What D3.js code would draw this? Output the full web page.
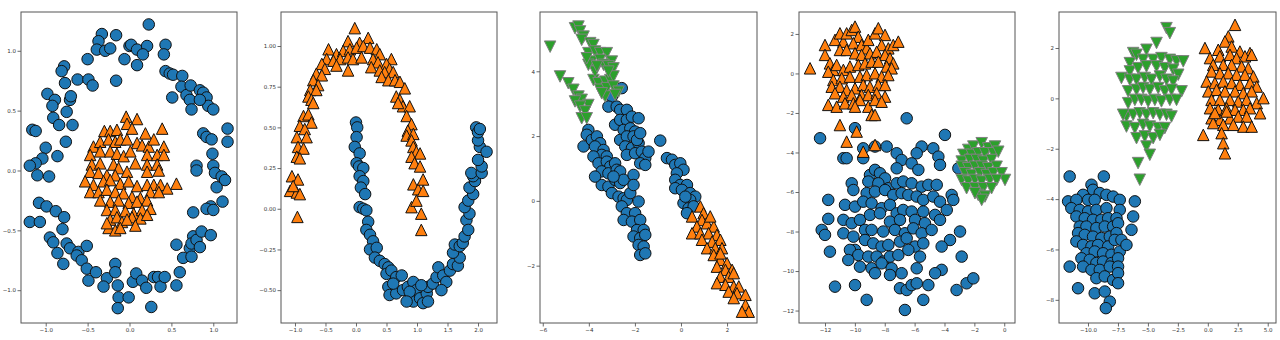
<!DOCTYPE html>
<html>
<head>
<meta charset="utf-8">
<script src="https://cdn.jsdelivr.net/npm/d3@7"></script>
<style>
  body { margin: 0; background: #fff; }
  svg { display: block; font-family: "DejaVu Sans", sans-serif; }
</style>
</head>
<body>
<div id="app"></div>
<script>
// panel 1: circles
const circlesBlue = [[0.23,1.22],[-0.33,1.14],[-0.16,1.13],[-0.37,1.08],[-0.39,1.01],[-0.29,1.00],[-0.23,1.02],[0.00,1.04],[0.02,1.05],[0.09,1.01],[0.21,1.04],[0.16,0.97],[-0.06,0.93],[0.09,0.88],[0.43,1.05],[0.41,0.97],[-0.50,0.93],[-0.78,0.87],[-0.81,0.83],[-0.77,0.73],[-0.62,0.76],[-0.49,0.76],[-0.44,0.71],[-0.16,0.75],[0.43,0.83],[0.48,0.81],[0.52,0.80],[0.63,0.79],[0.51,0.61],[0.62,0.70],[0.68,0.63],[0.72,0.59],[0.74,0.51],[0.73,0.71],[0.84,0.67],[0.88,0.65],[0.92,0.61],[0.94,0.54],[1.00,0.51],[0.84,0.59],[-0.98,0.64],[-0.89,0.59],[-0.92,0.54],[-0.75,0.49],[-0.71,0.59],[-0.70,0.62],[-0.91,0.44],[-0.84,0.38],[-0.68,0.38],[-0.76,0.24],[-1.16,0.34],[-1.12,0.33],[-1.00,0.19],[-1.04,0.10],[-1.12,0.06],[-1.19,0.04],[-1.10,-0.04],[-0.96,-0.05],[-0.86,0.12],[0.88,0.31],[0.92,0.28],[0.98,0.26],[1.17,0.35],[1.17,0.24],[0.99,0.14],[0.80,0.04],[0.80,0.00],[1.00,0.04],[1.02,-0.02],[1.10,-0.05],[1.14,-0.08],[1.04,-0.14],[1.11,-0.26],[0.97,-0.30],[0.92,-0.32],[1.00,-0.33],[0.76,-0.35],[-1.08,-0.27],[-0.99,-0.30],[-1.19,-0.43],[-1.07,-0.43],[-0.88,-0.34],[-0.78,-0.39],[-0.80,-0.49],[-0.95,-0.56],[-0.91,-0.60],[-0.75,-0.61],[-0.71,-0.65],[-0.61,-0.68],[-0.63,-0.71],[-0.51,-0.63],[-0.57,-0.75],[-0.51,-0.82],[-0.49,-0.92],[-0.40,-0.85],[-0.27,-0.90],[-0.31,-0.97],[-0.17,-0.78],[-0.17,-0.85],[-0.14,-0.96],[-0.13,-1.06],[-0.14,-1.15],[-0.01,-1.06],[0.04,-0.93],[0.08,-0.86],[0.15,-0.92],[0.20,-0.98],[0.29,-0.89],[0.34,-0.89],[0.37,-0.97],[0.42,-0.89],[0.56,-0.96],[0.60,-0.85],[0.64,-0.73],[0.56,-0.62],[0.26,-1.14],[0.72,-0.65],[0.76,-0.55],[0.74,-0.61],[0.80,-0.58],[0.74,-0.72],[0.84,-0.64],[0.86,-0.51],[0.97,-0.54],[-0.86,-0.69],[-0.79,-0.78]]
const circlesOrange = [[-0.04,0.45],[0.09,0.43],[-0.03,0.39],[0.03,0.35],[0.39,0.35],[-0.30,0.33],[-0.23,0.33],[-0.15,0.34],[0.19,0.31],[-0.43,0.20],[-0.35,0.24],[-0.25,0.26],[-0.17,0.24],[-0.11,0.26],[-0.03,0.26],[0.09,0.23],[0.15,0.21],[0.23,0.20],[0.29,0.26],[0.41,0.20],[-0.47,0.13],[-0.35,0.16],[-0.23,0.16],[-0.15,0.14],[-0.07,0.12],[0.01,0.16],[0.21,0.13],[0.33,0.13],[0.41,0.13],[-0.45,0.05],[-0.35,0.06],[-0.19,0.05],[-0.13,0.02],[-0.03,-0.01],[0.07,0.06],[0.21,0.05],[0.33,0.05],[0.35,0.00],[-0.47,-0.01],[-0.37,-0.02],[-0.27,-0.04],[-0.17,-0.04],[0.21,-0.01],[-0.53,-0.09],[-0.43,-0.12],[-0.31,-0.09],[-0.23,-0.08],[-0.11,-0.11],[-0.01,-0.09],[0.09,-0.13],[0.21,-0.12],[0.29,-0.12],[0.37,-0.12],[0.45,-0.15],[0.56,-0.11],[-0.47,-0.18],[-0.37,-0.18],[-0.27,-0.16],[-0.17,-0.18],[-0.07,-0.19],[0.03,-0.22],[0.13,-0.23],[0.25,-0.18],[0.35,-0.18],[-0.35,-0.25],[-0.23,-0.26],[-0.13,-0.25],[-0.01,-0.27],[0.09,-0.26],[0.21,-0.25],[-0.27,-0.33],[-0.17,-0.33],[-0.05,-0.34],[0.05,-0.36],[0.15,-0.33],[0.25,-0.32],[-0.23,-0.41],[-0.15,-0.39],[-0.09,-0.43],[0.03,-0.39],[0.13,-0.40],[0.21,-0.37],[-0.25,-0.48],[-0.17,-0.50],[-0.11,-0.48],[0.07,-0.46],[-0.27,-0.44],[-0.03,-0.41]]

// panel 2: moons
const moonsBlue = [[0.00,0.53],[0.02,0.50],[0.01,0.44],[-0.02,0.38],[0.06,0.34],[0.01,0.28],[0.05,0.26],[0.12,0.25],[0.06,0.20],[0.12,0.17],[0.08,0.13],[0.15,0.09],[0.06,0.01],[0.12,0.00],[0.17,-0.01],[0.20,-0.08],[0.17,-0.13],[0.23,-0.16],[0.28,-0.20],[0.23,-0.25],[0.34,-0.24],[0.31,-0.30],[0.39,-0.32],[0.47,-0.34],[0.53,-0.36],[0.50,-0.40],[0.58,-0.38],[0.66,-0.42],[0.75,-0.41],[0.53,-0.48],[0.55,-0.53],[0.66,-0.52],[0.77,-0.50],[0.85,-0.48],[0.94,-0.45],[0.99,-0.50],[0.94,-0.57],[1.05,-0.55],[1.10,-0.58],[1.16,-0.52],[1.18,-0.48],[1.26,-0.46],[1.32,-0.42],[1.35,-0.36],[1.43,-0.41],[1.48,-0.45],[1.54,-0.38],[1.59,-0.34],[1.67,-0.35],[1.70,-0.30],[1.59,-0.27],[1.62,-0.22],[1.70,-0.23],[1.75,-0.21],[1.78,-0.17],[1.81,-0.07],[1.86,-0.03],[1.78,0.01],[1.84,0.05],[1.92,0.09],[1.86,0.13],[1.95,0.17],[1.92,0.20],[1.89,0.22],[2.06,0.22],[2.06,0.26],[2.00,0.30],[2.03,0.38],[2.00,0.42],[2.14,0.35],[1.97,0.50],[2.00,0.47],[2.03,0.49],[0.88,-0.51],[1.18,-0.57],[0.83,-0.57],[0.61,-0.46],[1.40,-0.50],[1.84,-0.13],[1.07,-0.47]]
const moonsOrange = [[-0.02,1.11],[0.20,1.05],[-0.13,1.03],[0.06,1.02],[-0.45,0.98],[-0.32,0.95],[-0.21,0.97],[-0.10,0.98],[0.01,0.99],[0.12,1.00],[0.23,0.99],[0.34,0.98],[0.39,0.95],[0.58,0.92],[-0.48,0.92],[-0.37,0.91],[-0.26,0.92],[-0.13,0.93],[-0.05,0.92],[0.09,0.93],[0.28,0.92],[0.36,0.90],[0.50,0.89],[0.55,0.86],[-0.56,0.89],[-0.51,0.86],[-0.32,0.88],[-0.13,0.85],[0.25,0.87],[0.39,0.85],[0.47,0.84],[0.61,0.84],[-0.65,0.83],[-0.56,0.82],[0.42,0.81],[0.53,0.79],[0.64,0.79],[0.72,0.78],[-0.70,0.79],[-0.62,0.76],[-0.75,0.73],[-0.65,0.73],[0.80,0.74],[0.66,0.69],[0.72,0.67],[-0.78,0.69],[-0.73,0.67],[-0.70,0.65],[0.77,0.63],[0.69,0.65],[0.88,0.63],[-0.86,0.57],[-0.78,0.58],[-0.73,0.53],[0.83,0.57],[0.91,0.52],[-0.92,0.51],[-0.84,0.49],[0.85,0.48],[0.83,0.45],[0.94,0.46],[-0.97,0.44],[-0.81,0.44],[0.91,0.42],[-0.95,0.38],[-0.86,0.37],[0.94,0.38],[0.99,0.35],[1.05,0.34],[-0.97,0.32],[-0.92,0.31],[0.91,0.32],[0.96,0.28],[1.05,0.26],[-1.05,0.20],[-0.95,0.18],[-1.08,0.11],[-0.97,0.10],[-0.92,0.09],[-1.03,0.14],[0.94,0.15],[1.02,0.12],[1.10,0.18],[1.10,0.11],[0.91,0.01],[1.07,-0.03],[-0.96,-0.05],[1.07,-0.13],[0.99,0.05]]

// panel 3: anisotropic blobs
const anisoBlue = [[-4.02,2.19],[-4.09,2.04],[-4.23,1.68],[-3.87,1.88],[-3.65,1.99],[-3.51,1.78],[-3.73,1.68],[-3.36,1.57],[-3.44,1.42],[-3.80,1.37],[-3.22,1.37],[-3.58,1.16],[-3.22,1.21],[-3.07,1.06],[-2.86,1.16],[-3.44,0.91],[-3.15,0.85],[-2.79,0.96],[-2.64,0.91],[-3.44,0.49],[-3.15,0.44],[-2.86,0.65],[-2.64,0.55],[-2.49,0.65],[-3.00,0.24],[-2.71,0.13],[-2.49,0.08],[-2.35,0.03],[-2.57,-0.17],[-2.20,0.24],[-2.06,0.80],[-2.06,0.49],[-1.84,-0.02],[-2.35,-0.38],[-1.99,-0.38],[-2.49,-0.59],[-2.13,-0.64],[-1.77,-0.59],[-1.91,-0.90],[-1.62,-0.90],[-2.06,-1.10],[-1.77,-1.15],[-1.55,-1.05],[-1.84,-1.36],[-1.62,-1.41],[-1.77,-1.67],[-1.55,-1.62],[-3.73,0.75],[-2.93,0.75],
  [-2.57,3.48],[-3.00,3.22],[-3.15,2.91],[-2.79,2.91],[-2.64,2.81],[-2.35,2.81],[-2.86,2.35],[-2.64,2.50],[-2.35,2.50],[-2.13,2.60],[-1.84,2.55],[-2.49,2.19],[-2.20,2.24],[-1.99,2.14],[-2.64,1.88],[-2.35,1.99],[-2.06,1.99],[-2.42,1.68],[-2.13,1.63],[-1.84,1.78],[-2.35,1.42],[-1.99,1.47],[-1.70,1.52],[-1.55,1.32],[-1.41,1.52],[-1.77,1.16],[-1.55,1.11],[-1.91,1.88],[-1.77,2.09],
  [-0.90,1.86],
  [-0.61,1.32],[-0.39,1.27],[-0.25,1.11],[-0.03,1.16],[0.11,0.96],[-0.18,0.85],[-0.25,0.65],[-0.03,0.49],[0.26,0.49],[-0.25,0.39],[0.04,0.34],[0.40,0.24],[0.62,0.13],[0.40,0.03],[0.11,-0.07],[0.33,-0.23],[0.55,-0.17],[0.26,-0.38],[0.19,0.13]]
const anisoOrange = [[0.48,-0.48],[0.84,-0.17],[0.98,-0.38],[0.91,-0.59],[0.69,-0.79],[1.13,-0.69],[1.42,-0.79],[0.48,-1.00],[0.84,-1.00],[1.20,-1.00],[1.56,-1.05],[1.71,-1.20],[0.91,-1.20],[1.35,-1.26],[1.13,-1.46],[1.49,-1.46],[1.78,-1.46],[1.42,-1.67],[1.71,-1.82],[2.00,-1.92],[1.56,-2.03],[1.93,-2.13],[2.22,-2.13],[1.71,-2.34],[2.07,-2.34],[2.29,-2.23],[1.56,-2.54],[1.93,-2.59],[2.29,-2.64],[2.51,-2.64],[2.07,-2.80],[2.43,-2.85],[2.80,-2.90],[2.29,-3.00],[2.80,-3.21],[2.94,-3.42],[2.65,-3.42],[1.71,-1.62],[1.27,-0.48]]
const anisoGreen = [[-5.68,4.76],[-4.60,5.33],[-4.45,5.38],[-4.38,5.23],[-4.23,5.07],[-4.31,4.97],[-3.94,4.87],[-3.80,4.81],[-4.02,4.56],[-3.73,4.61],[-3.51,4.56],[-3.22,4.56],[-3.00,4.30],[-3.87,4.30],[-3.51,4.35],[-3.36,4.20],[-3.15,4.15],[-2.93,4.09],[-5.25,3.84],[-4.89,3.63],[-4.67,3.43],[-4.45,3.22],[-4.31,3.12],[-4.02,2.96],[-4.60,3.07],[-4.38,2.91],[-4.16,2.76],[-4.31,2.55],[-4.09,2.55],[-3.80,3.73],[-3.58,3.63],[-3.29,3.68],[-3.07,3.73],[-2.93,3.84],[-3.51,3.43],[-3.22,3.48],[-2.93,3.53],[-2.71,3.37],[-3.29,3.22],[-3.44,3.32],[-2.86,3.27],[-3.73,3.99],[-3.15,3.99],[-4.02,4.20],[-3.65,4.15],[-4.09,4.40]]

// panel 4: blobs with different spread
const blobsBlue = [[-6.53,-2.27],[-3.97,-3.11],[-12.33,-3.28],[-9.99,-2.77],[-10.77,-4.29],[-10.55,-4.29],[-9.44,-3.79],[-8.65,-3.70],[-7.87,-3.70],[-7.20,-4.04],[-5.53,-3.70],[-4.75,-3.79],[-5.86,-4.04],[-4.41,-4.21],[-4.30,-4.63],[-3.07,-4.80],[-6.87,-4.38],[-6.20,-4.55],[-5.75,-4.88],[-7.20,-4.80],[-8.99,-5.14],[-8.65,-4.88],[-8.32,-5.05],[-7.98,-5.31],[-9.10,-5.47],[-8.43,-5.56],[-7.76,-5.81],[-7.20,-5.56],[-6.76,-5.47],[-6.20,-5.56],[-5.53,-5.73],[-5.08,-5.64],[-4.52,-5.64],[-10.21,-5.56],[-10.10,-5.90],[-9.21,-6.06],[-8.65,-5.98],[-7.98,-5.90],[-7.43,-6.15],[-6.87,-6.06],[-6.42,-6.15],[-5.86,-6.23],[-5.42,-6.40],[-4.75,-6.23],[-4.30,-6.49],[-3.52,-6.15],[-3.41,-6.40],[-11.78,-6.40],[-10.66,-6.65],[-9.99,-6.74],[-9.44,-6.49],[-8.88,-6.57],[-8.21,-6.82],[-7.65,-6.65],[-7.20,-7.08],[-6.76,-6.91],[-6.20,-6.99],[-5.42,-6.99],[-4.63,-7.16],[-3.85,-6.91],[-11.78,-7.36],[-10.77,-7.41],[-10.21,-7.58],[-9.66,-7.41],[-8.99,-7.16],[-8.32,-7.08],[-7.65,-7.50],[-6.98,-7.41],[-5.97,-7.41],[-5.31,-7.58],[-4.30,-7.41],[-12.22,-7.92],[-12.00,-8.17],[-10.77,-8.09],[-10.10,-8.26],[-9.32,-7.92],[-8.88,-7.92],[-8.10,-8.00],[-7.32,-7.92],[-6.65,-8.09],[-6.09,-7.84],[-5.53,-8.09],[-4.86,-7.92],[-2.96,-8.00],[-3.63,-8.43],[-9.99,-8.93],[-9.32,-8.43],[-8.77,-8.60],[-8.21,-8.76],[-7.76,-8.68],[-6.98,-8.51],[-6.53,-8.34],[-5.97,-8.76],[-5.42,-8.60],[-4.19,-8.76],[-11.67,-9.02],[-10.33,-8.93],[-9.77,-9.19],[-9.10,-9.27],[-8.54,-9.27],[-8.10,-9.52],[-7.65,-9.27],[-7.09,-9.19],[-6.42,-8.93],[-5.64,-9.27],[-2.85,-9.27],[-10.44,-9.44],[-9.66,-9.78],[-8.88,-9.86],[-8.21,-9.61],[-7.54,-9.86],[-8.65,-10.11],[-7.65,-10.20],[-6.87,-10.11],[-5.86,-9.86],[-4.19,-9.94],[-4.63,-10.11],[-11.33,-10.79],[-9.99,-10.71],[-6.98,-10.87],[-6.53,-10.96],[-6.20,-10.71],[-5.86,-10.62],[-5.08,-10.71],[-3.19,-10.96],[-2.52,-10.62],[-2.07,-10.37],[-9.21,-11.46],[-6.65,-11.97],[-5.42,-11.46],[-9.44,-4.29]]
const blobsOrange = [[-13.0,0.26],[-12.0,1.44],[-12.0,0.94],[-11.67,0.51],[-11.44,0.18],[-11.33,1.70],[-11.0,2.03],[-10.77,1.61],[-10.55,2.03],[-10.21,2.20],[-9.99,2.37],[-9.77,1.86],[-10.10,1.53],[-9.55,1.44],[-9.21,1.27],[-9.10,1.70],[-8.65,2.03],[-8.43,2.29],[-7.98,1.95],[-8.21,1.44],[-7.76,1.27],[-7.43,1.44],[-7.09,1.61],[-11.0,1.19],[-10.55,1.19],[-9.99,1.02],[-9.55,0.94],[-8.99,1.02],[-8.54,1.10],[-7.98,0.94],[-7.65,0.77],[-7.43,0.51],[-11.78,0.09],[-11.22,0.43],[-10.77,0.18],[-10.33,0.35],[-9.77,0.43],[-9.32,0.51],[-8.88,0.60],[-8.43,0.60],[-7.87,0.35],[-7.54,0.26],[-11.44,-0.33],[-10.88,-0.24],[-10.33,-0.16],[-9.66,-0.16],[-9.21,-0.08],[-8.65,0.01],[-8.21,-0.16],[-7.76,-0.08],[-11.55,-0.67],[-11.0,-0.67],[-10.55,-0.84],[-9.99,-0.75],[-9.44,-0.58],[-8.99,-0.67],[-8.43,-0.58],[-7.98,-0.58],[-11.33,-1.00],[-10.77,-1.17],[-10.21,-1.09],[-9.55,-1.09],[-9.10,-1.09],[-8.54,-1.00],[-7.98,-1.17],[-11.78,-1.59],[-11.22,-1.68],[-10.66,-1.51],[-10.10,-1.51],[-9.66,-1.34],[-9.10,-1.68],[-8.65,-1.34],[-8.21,-1.43],[-9.99,-1.68],[-8.88,-2.10],[-8.65,-2.10],[-11.0,-2.61],[-9.88,-2.94],[-10.55,-3.45],[-9.44,-3.96],[-8.65,-3.62]]
const blobsGreen = [[-2.41,-3.87],[-2.07,-3.70],[-1.51,-3.53],[-1.07,-3.79],[-0.62,-3.70],[-2.74,-4.12],[-2.18,-4.12],[-1.74,-4.04],[-1.29,-4.04],[-0.73,-4.04],[-0.40,-3.96],[-2.85,-4.46],[-2.30,-4.38],[-1.85,-4.38],[-1.40,-4.46],[-0.85,-4.38],[-2.85,-4.72],[-2.41,-4.80],[-1.96,-4.72],[-1.51,-4.72],[-1.07,-4.80],[-0.51,-4.72],[-2.63,-5.05],[-2.18,-5.14],[-1.63,-5.05],[-1.18,-5.14],[-0.73,-5.05],[-0.18,-5.05],[0.05,-5.39],[-2.85,-5.39],[-2.41,-5.47],[-1.96,-5.39],[-1.51,-5.47],[-0.96,-5.39],[-0.51,-5.39],[-2.52,-5.81],[-1.96,-5.81],[-1.40,-5.81],[-0.85,-5.81],[-1.74,-6.15],[-1.29,-6.23],[-1.51,-6.40],[-1.96,-6.06]]

// panel 5: three blobs
const threeBlue = [[-11.53,-3.10],[-8.68,-3.10],[-9.71,-3.43],[-9.58,-3.63],[-10.41,-3.83],[-9.02,-3.76],[-8.46,-3.83],[-7.90,-3.90],[-7.35,-4.03],[-11.66,-4.09],[-10.97,-4.03],[-9.99,-4.03],[-9.44,-4.03],[-6.09,-4.09],[-11.39,-4.36],[-10.69,-4.43],[-9.99,-4.49],[-9.30,-4.43],[-8.46,-4.36],[-7.35,-4.43],[-10.97,-4.69],[-10.27,-4.76],[-9.58,-4.82],[-8.88,-4.82],[-8.32,-4.76],[-7.62,-4.76],[-6.23,-4.69],[-10.69,-5.09],[-10.13,-5.09],[-9.30,-5.15],[-8.60,-5.09],[-7.90,-5.09],[-7.49,-4.96],[-10.83,-5.35],[-10.27,-5.42],[-9.58,-5.49],[-8.88,-5.55],[-8.18,-5.49],[-7.62,-5.35],[-6.37,-5.22],[-10.97,-5.68],[-10.41,-5.82],[-9.71,-5.88],[-9.16,-5.82],[-8.32,-5.88],[-7.77,-5.62],[-7.21,-5.62],[-10.13,-6.15],[-9.44,-6.08],[-8.74,-6.15],[-8.04,-6.21],[-7.35,-6.08],[-6.79,-5.82],[-10.55,-6.35],[-9.85,-6.41],[-9.30,-6.54],[-8.74,-6.48],[-8.04,-6.54],[-7.49,-6.35],[-10.41,-6.68],[-11.53,-6.68],[-9.71,-6.81],[-9.02,-6.81],[-8.18,-6.68],[-7.49,-6.68],[-9.30,-7.14],[-8.60,-7.07],[-7.90,-7.21],[-7.49,-6.94],[-10.83,-7.54],[-9.44,-7.74],[-8.60,-7.67],[-8.18,-8.07],[-8.51,-8.33],[-7.49,-7.34]]
const threeOrange = [[2.27,2.92],[1.71,2.46],[1.43,2.26],[-0.24,2.00],[0.87,1.93],[1.99,2.06],[2.68,1.86],[3.52,1.80],[0.18,1.60],[1.01,1.67],[1.85,1.73],[2.40,1.60],[3.10,1.67],[3.66,1.73],[0.45,1.33],[1.29,1.33],[1.99,1.33],[2.82,1.27],[3.38,1.20],[0.31,1.07],[1.01,1.00],[1.71,1.00],[2.40,0.94],[3.10,0.94],[3.80,0.87],[-0.10,0.67],[0.59,0.61],[1.29,0.67],[1.99,0.61],[2.68,0.54],[3.52,0.61],[4.08,0.47],[0.04,0.28],[0.73,0.34],[1.43,0.28],[2.27,0.28],[2.96,0.21],[3.66,0.28],[0.31,-0.06],[1.01,-0.06],[1.85,-0.06],[2.54,-0.12],[3.24,-0.06],[4.08,-0.19],[4.64,0.01],[0.18,-0.39],[0.87,-0.45],[1.57,-0.39],[2.27,-0.45],[2.96,-0.45],[3.52,-0.39],[4.36,-0.59],[0.31,-0.79],[1.01,-0.85],[1.85,-0.79],[2.54,-0.72],[3.24,-0.72],[0.45,-0.98],[1.29,-1.05],[2.13,-1.05],[2.96,-1.12],[3.66,-1.12],[1.15,-1.38],[-0.38,-1.45],[1.29,-1.78],[1.43,-2.18],[1.57,-0.52],[0.59,-0.58]]
const threeGreen = [[-3.45,2.79],[-3.17,2.59],[-4.28,2.20],[-5.12,1.93],[-6.23,1.80],[-5.95,1.73],[-6.51,1.40],[-5.40,1.53],[-4.56,1.53],[-3.87,1.60],[-3.17,1.53],[-2.61,1.47],[-2.05,1.47],[-7.21,0.81],[-6.51,1.07],[-5.82,1.20],[-5.12,1.27],[-4.28,1.27],[-3.59,1.20],[-2.89,1.14],[-2.47,0.94],[-6.51,0.74],[-5.95,0.74],[-5.26,0.81],[-4.70,0.74],[-4.00,0.87],[-3.45,0.74],[-2.89,0.67],[-2.19,0.28],[-6.65,0.28],[-5.95,0.34],[-5.40,0.41],[-4.84,0.34],[-4.14,0.41],[-3.59,0.28],[-3.03,0.34],[-6.65,-0.19],[-6.09,-0.06],[-5.54,-0.06],[-4.98,-0.12],[-4.42,-0.06],[-3.87,-0.12],[-3.17,-0.06],[-2.61,-0.06],[-6.79,-0.72],[-6.23,-0.65],[-5.68,-0.59],[-5.12,-0.65],[-4.56,-0.59],[-4.00,-0.65],[-3.45,-0.65],[-3.03,-0.72],[-6.79,-1.12],[-6.09,-1.18],[-5.40,-1.05],[-4.84,-1.12],[-4.14,-1.18],[-3.59,-1.18],[-5.95,-1.58],[-5.26,-1.51],[-4.56,-1.58],[-4.00,-1.45],[-5.12,-1.91],[-4.84,-2.24],[-5.82,-2.57],[-5.68,-3.23],[-7.07,-0.65]]

// tick values per panel
const ticks1x = [-1.0, -0.5, 0.0, 0.5, 1.0]
const ticks1y = [-1.0, -0.5, 0.0, 0.5, 1.0]
const ticks2x = [-1.0, -0.5, 0.0, 0.5, 1.0, 1.5, 2.0]
const ticks2y = [-0.5, -0.25, 0.0, 0.25, 0.5, 0.75, 1.0]
const ticks3x = [-6, -4, -2, 0, 2]
const ticks3y = [-2, 0, 2, 4]
const ticks4x = [-12, -10, -8, -6, -4, -2, 0]
const ticks4y = [-12, -10, -8, -6, -4, -2, 0, 2]
const ticks5x = [-10.0, -7.5, -5.0, -2.5, 0.0, 2.5, 5.0]
const ticks5y = [-8, -6, -4, -2, 0, 2]

const blue = '#1f77b4', orange = '#ff7f0e', green = '#2ca02c'

const panels = [
  { left: 21, right: 237, xd: [-1.295, 1.283], yd: [-1.274, 1.324], tx: ticks1x, ty: ticks1y, fx: '.1f', fy: '.1f',
    series: [[circlesBlue, 'o', blue], [circlesOrange, '^', orange]] },
  { left: 281, right: 497, xd: [-1.229, 2.311], yd: [-0.702, 1.209], tx: ticks2x, ty: ticks2y, fx: '.1f', fy: '.2f',
    series: [[moonsBlue, 'o', blue], [moonsOrange, '^', orange]] },
  { left: 540, right: 757, xd: [-6.12, 3.30], yd: [-3.77, 5.83], tx: ticks3x, ty: ticks3y, fx: 'd', fy: 'd',
    series: [[anisoBlue, 'o', blue], [anisoOrange, '^', orange], [anisoGreen, 'v', green]] },
  { left: 799, right: 1015, xd: [-13.74, 0.72], yd: [-12.63, 3.11], tx: ticks4x, ty: ticks4y, fx: 'd', fy: 'd',
    series: [[blobsBlue, 'o', blue], [blobsOrange, '^', orange], [blobsGreen, 'v', green]] },
  { left: 1059, right: 1276, xd: [-12.42, 5.69], yd: [-8.92, 3.43], tx: ticks5x, ty: ticks5y, fx: '.1f', fy: 'd',
    series: [[threeBlue, 'o', blue], [threeOrange, '^', orange], [threeGreen, 'v', green]] }
]

const plotTop = 12, plotBottom = 323
const ms = 11.5 // marker size in px

const svg = d3.select('#app').append('svg')
  .attr('width', 1280).attr('height', 340)

// matplotlib style minus sign
const fmt = (f) => (v) => d3.format(f)(v).replace('-', '\u2212')

const triUp = `M0,${-ms / 2}L${ms / 2},${ms / 2}L${-ms / 2},${ms / 2}Z`
const triDown = `M0,${ms / 2}L${ms / 2},${-ms / 2}L${-ms / 2},${-ms / 2}Z`

panels.forEach((p) => {
  const x = d3.scaleLinear().domain(p.xd).range([p.left, p.right])
  const y = d3.scaleLinear().domain(p.yd).range([plotBottom, plotTop])
  const g = svg.append('g')

  const clipId = 'clip' + p.left
  g.append('clipPath').attr('id', clipId)
    .append('rect').attr('x', p.left).attr('y', plotTop)
    .attr('width', p.right - p.left).attr('height', plotBottom - plotTop)

  const plot = g.append('g').attr('clip-path', `url(#${clipId})`)

  p.series.forEach(([data, marker, color]) => {
    const edge = color === green ? '#808080' : '#111'
    if (marker === 'o') {
      plot.append('g').selectAll('circle').data(data).join('circle')
        .attr('cx', (d) => x(d[0])).attr('cy', (d) => y(d[1]))
        .attr('r', ms / 2)
        .attr('fill', color).attr('stroke', edge).attr('stroke-width', 1)
    } else {
      plot.append('g').selectAll('path').data(data).join('path')
        .attr('transform', (d) => `translate(${x(d[0])},${y(d[1])})`)
        .attr('d', marker === '^' ? triUp : triDown)
        .attr('fill', color).attr('stroke', edge).attr('stroke-width', 1)
    }
  })

  const xAxis = d3.axisBottom(x).tickValues(p.tx).tickFormat(fmt(p.fx)).tickSize(3.5).tickPadding(1.5)
  const yAxis = d3.axisLeft(y).tickValues(p.ty).tickFormat(fmt(p.fy)).tickSize(3.5).tickPadding(1.5)

  g.append('g').attr('transform', `translate(0,${plotBottom})`).call(xAxis)
  g.append('g').attr('transform', `translate(${p.left},0)`).call(yAxis)

  g.selectAll('.domain').remove()
  g.selectAll('.tick line').attr('stroke', '#444').attr('stroke-width', 0.8)
  g.selectAll('.tick text').attr('fill', '#333').style('font-size', '5.5px').style('font-family', '"DejaVu Sans", sans-serif')

  // frame
  g.append('rect')
    .attr('x', p.left).attr('y', plotTop)
    .attr('width', p.right - p.left).attr('height', plotBottom - plotTop)
    .attr('fill', 'none').attr('stroke', '#555').attr('stroke-width', 1)
})
</script>
</body>
</html>
